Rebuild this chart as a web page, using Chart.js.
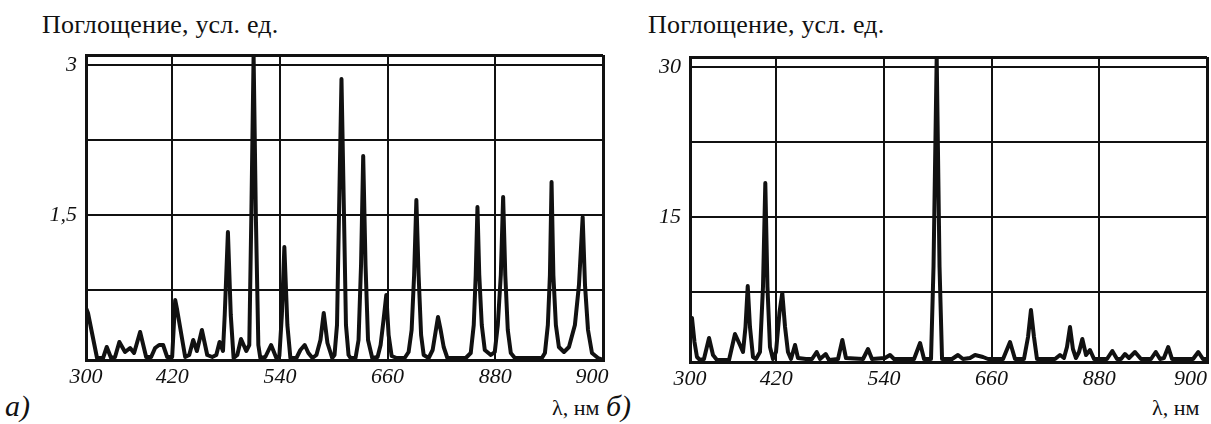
<!DOCTYPE html>
<html>
<head>
<meta charset="utf-8">
<script src="https://cdn.jsdelivr.net/npm/chart.js@4.4.1/dist/chart.umd.min.js"></script>
<style>
  body { margin: 0; width: 1211px; height: 424px; overflow: hidden; background: #fff; position: relative; font-family: "Liberation Serif", "Times New Roman", "DejaVu Serif", serif; color: #111; }
  canvas { position: absolute; top: 0; }
  .ttl { position: absolute; top: 12px; font-size: 26px; letter-spacing: 0.2px; line-height: 1; white-space: nowrap; }
  .lbl { position: absolute; top: 391px; font-size: 30px; font-style: italic; line-height: 1; }
  .unit { position: absolute; top: 397px; font-size: 22px; line-height: 1; white-space: nowrap; }
</style>
</head>
<body>
<div class="ttl" style="left:42px">Поглощение, усл. ед.</div>
<div class="ttl" style="left:648px">Поглощение, усл. ед.</div>
<div class="lbl" style="left:5px">а)</div>
<div class="lbl" style="left:606px">б)</div>
<div class="unit" style="left:552px">λ, нм</div>
<div class="unit" style="left:1152px">λ, нм</div>
<canvas id="chartA" width="640" height="424" style="left:0"></canvas>
<canvas id="chartB" width="640" height="424" style="left:604px"></canvas>
<script>
// положение по оси (шкала рисунка) и поглощение, панель а)
const posA = [300, 302.3, 312.8, 319.8, 324.1, 329.1, 333.7, 338.7, 345.3, 351.2,
  355.8, 362.8, 369.8, 375.6, 380.2, 384.9, 389.5, 394.2, 400, 403.5,
  405.8, 415.1, 419.8, 424.4, 428.7, 434.5, 440.7, 446.5, 451.2, 455,
  459, 461, 464.7, 468, 471.3, 475.6, 479.9, 486, 489.5, 491.9,
  494.5, 497.1, 500, 502.3, 508.1, 514.8, 520.9, 524.4, 527.3, 530.2,
  533.7, 537.2, 544.2, 548.8, 553.8, 558.1, 562.8, 567.4, 572.1, 575.9,
  580.2, 585.7, 588.4, 591.3, 593.6, 596.5, 599.4, 601.7, 604.7, 607,
  612.8, 616.3, 619.2, 621.7, 624.4, 627.3, 632.2, 638.4, 641.9, 645.3,
  648.5, 651.2, 654.7, 660.5, 669.8, 674.4, 677.9, 680.8, 683.4, 686,
  688.9, 691.9, 697.7, 702.3, 708.5, 711.6, 715.1, 719.4, 740.7, 746.5,
  750, 752.3, 754.3, 756.4, 759.3, 762.8, 769.8, 774.4, 777.9, 781.4,
  784.1, 786.6, 789.5, 793, 797.7, 829.1, 832.6, 836, 838.4, 840.3,
  842.4, 845.3, 848.8, 854.7, 860.5, 867.4, 872.1, 876.4, 879.1, 882.6,
  887.2, 894.2, 900];
const absA = [0.57, 0.52, 0.07, 0.07, 0.18, 0.07, 0.08, 0.23, 0.13, 0.17,
  0.12, 0.33, 0.08, 0.08, 0.17, 0.2, 0.2, 0.08, 0.08, 0.65,
  0.55, 0.08, 0.1, 0.25, 0.14, 0.35, 0.1, 0.08, 0.1, 0.23,
  0.14, 0.5, 1.33, 0.5, 0.07, 0.1, 0.26, 0.14, 0.2, 1.5,
  3.1, 1.5, 0.2, 0.07, 0.08, 0.2, 0.07, 0.09, 0.5, 1.18,
  0.4, 0.07, 0.07, 0.15, 0.2, 0.12, 0.07, 0.1, 0.25, 0.52,
  0.22, 0.07, 0.1, 0.4, 1.5, 2.86, 1.5, 0.4, 0.1, 0.07,
  0.07, 0.25, 1.0, 2.09, 1.0, 0.25, 0.07, 0.08, 0.2, 0.45,
  0.7, 0.3, 0.09, 0.07, 0.07, 0.13, 0.35, 0.9, 1.65, 0.9,
  0.3, 0.1, 0.07, 0.15, 0.48, 0.35, 0.18, 0.07, 0.07, 0.12,
  0.4, 0.9, 1.58, 0.9, 0.4, 0.15, 0.1, 0.13, 0.4, 0.9,
  1.68, 0.9, 0.35, 0.12, 0.07, 0.07, 0.12, 0.4, 0.9, 1.83,
  0.9, 0.4, 0.18, 0.13, 0.18, 0.4, 0.8, 1.48, 0.8, 0.35,
  0.12, 0.07, 0.05];

// панель б)
const posB = [300, 302.3, 305.2, 308.1, 311.6, 316.2, 322.1, 326.7, 331.3, 345.3,
  352.2, 358, 361.5, 364.4, 367, 369.6, 373.1, 376.6, 381.2, 384.7,
  387.4, 389.9, 392.8, 396.3, 399.8, 403.9, 407.1, 410.3, 413.7, 417.2,
  421.9, 425.3, 434.6, 441.6, 447, 450.9, 457.5, 461.3, 471.8, 476.8,
  481, 500.8, 506.6, 511.2, 526.3, 532.1, 536.8, 560, 567, 571.6,
  579.7, 582.6, 586.3, 589.6, 592.5, 604.1, 611, 616.8, 625, 630.8,
  640, 645.8, 663.3, 671.4, 677.2, 687.6, 692.3, 695.7, 699.2, 702.7,
  723.6, 729.4, 734, 737.5, 741, 744.4, 747.9, 751.5, 755.3, 759.6,
  764.2, 768.9, 783.9, 790.1, 795.6, 800.2, 804.8, 809.5, 816.4, 823.4,
  835, 840.5, 845.5, 850, 855, 859.4, 883.8, 889.9, 895.3, 900];
const absB = [4.6, 4.9, 2.5, 1.0, 0.7, 0.8, 2.9, 1.2, 0.7, 0.7,
  3.3, 2.2, 1.5, 4, 8.1, 4, 1.0, 0.8, 1.5, 8,
  18.4, 8, 2.0, 0.8, 1.5, 5.5, 7.4, 4, 1.5, 0.8,
  2.2, 0.9, 0.8, 0.8, 1.5, 0.8, 1.3, 0.7, 0.8, 2.7,
  0.9, 0.8, 1.8, 0.8, 0.9, 1.2, 0.8, 0.8, 2.4, 0.8,
  0.8, 10, 31, 10, 0.8, 0.8, 1.2, 0.8, 0.9, 1.2,
  1.0, 0.8, 0.8, 2.5, 0.8, 0.8, 3.0, 5.7, 3.0, 0.8,
  0.8, 1.2, 0.9, 2.0, 4.0, 1.8, 0.9, 1.5, 2.8, 1.2,
  1.7, 0.8, 0.8, 1.6, 0.8, 0.8, 1.3, 0.9, 1.5, 0.8,
  0.8, 1.5, 0.8, 0.9, 2.0, 0.8, 0.8, 1.5, 0.8, 0.8];

// подписи осей
const tickPos = [300, 400, 525, 650, 775, 900];
const tickLabels = ['300', '420', '540', '660', '880', '900'];
const yTicksA = [0.75, 1.5, 2.25, 3];
const yLabelsA = ['', '1,5', '', '3'];
const yTicksB = [7.5, 15, 22.5, 30];
const yLabelsB = ['', '15', '', '30'];

const ink = '#111';
const serif = '"Liberation Serif", "Times New Roman", "DejaVu Serif", serif';

// рисуем одну панель
function makePanel(id, pos, vals, yMin, yMax, yTicks, yLabels, top, lastPad) {
  const ctx = document.getElementById(id).getContext('2d');
  const xEdges = [tickPos[0], tickPos[tickPos.length - 1]];
  return new Chart(ctx, {
    type: 'line',
    data: {
      datasets: [{
        data: pos.map((x, i) => ({ x: x, y: vals[i] })),
        borderColor: ink,
        borderWidth: 4,
        borderJoinStyle: 'round',
        borderCapStyle: 'round',
        pointRadius: 0,
        tension: 0,
        fill: false
      }]
    },
    options: {
      responsive: false,
      animation: false,
      devicePixelRatio: 1,
      layout: { padding: { top: top, right: 37, left: 0, bottom: 0 } },
      plugins: { legend: { display: false }, tooltip: { enabled: false } },
      scales: {
        x: {
          type: 'linear',
          min: 300,
          max: 900,
          afterBuildTicks: s => { s.ticks = tickPos.map(v => ({ value: v })); },
          afterFit: s => { s.height = 424 - top - 305; },
          grid: {
            color: ink,
            drawTicks: false,
            lineWidth: c => (c.tick && xEdges.includes(c.tick.value)) ? 3 : 2
          },
          border: { display: true, color: ink, width: 3 },
          ticks: {
            padding: 4,
            maxRotation: 0,
            autoSkip: false,
            color: ink,
            font: { family: serif, style: 'italic', size: 22 },
            callback: (v, i) => i === tickLabels.length - 1 ? tickLabels[i] + lastPad : tickLabels[i]
          }
        },
        y: {
          min: yMin,
          max: yMax,
          afterBuildTicks: s => {
            s.ticks = [yMin].concat(yTicks, [yMax]).map(v => ({ value: v }));
          },
          afterFit: s => { s.width = 86; },
          grid: {
            color: ink,
            drawTicks: false,
            lineWidth: c => (c.tick && c.tick.value === yMax) ? 3 : 2
          },
          border: { display: true, color: ink, width: 3 },
          ticks: {
            padding: 9,
            color: ink,
            font: { family: serif, style: 'italic', size: 22 },
            callback: (v, i) => {
              const k = yTicks.indexOf(v);
              return k >= 0 ? yLabels[k] : '';
            }
          }
        }
      }
    }
  });
}

makePanel('chartA', posA, absA, 0.05, 3.1, yTicksA, yLabelsA, 55, '\u2002\u2002');
makePanel('chartB', posB, absB, 0.5, 31, yTicksB, yLabelsB, 57, '\u2002\u2002\u2002');
</script>
</body>
</html>
